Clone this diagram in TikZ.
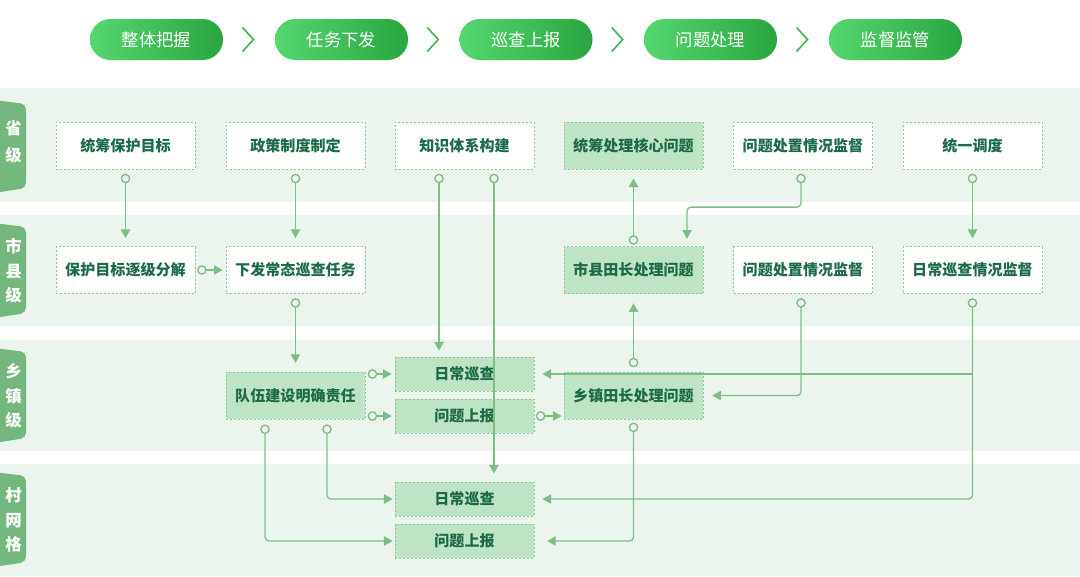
\documentclass[tikz,border=0pt]{standalone}
\usepackage{fontspec}
\newfontfamily\cjk{Noto Sans CJK SC}
\usetikzlibrary{arrows.meta,calc}
\definecolor{band}{HTML}{EBF5EE}
\definecolor{tabc}{HTML}{74B77F}
\definecolor{ln}{HTML}{7DBE88}
\definecolor{gfill}{HTML}{BFE4C5}
\definecolor{bord}{HTML}{8DC79A}
\definecolor{txt}{HTML}{1C6B48}
\definecolor{pillL}{HTML}{55D76F}
\definecolor{pillR}{HTML}{2AA53F}
\definecolor{chev}{HTML}{3DB654}
\tikzset{
  box/.style={draw=bord, dash pattern=on 1.5pt off 1.5pt, line width=0.6pt, fill=white,
    minimum width=104.25pt, minimum height=35.25pt, inner sep=0pt,
    font=\cjk\bfseries\fontsize{11.3}{13}\selectfont, text=txt},
  gbox/.style={box, fill=gfill},
  sbox/.style={gbox, minimum height=25.5pt},
  pill/.style={rounded corners=15.3pt, left color=pillL, right color=pillR,
    minimum width=99.75pt, minimum height=30.75pt, inner sep=0pt,
    font=\cjk\fontsize{13}{15}\selectfont, text=white},
  chevron/.style={draw=chev, line width=1.2pt},
  tabshape/.style={fill=tabc, rounded corners=4pt},
  tabtxt/.style={font=\cjk\bfseries\fontsize{12.3}{18.5}\selectfont, text=white, align=center, inner sep=0pt},
  conn/.style={draw=ln, line width=1pt, rounded corners=3pt,
    arrows={Circle[open,length=7.2pt]-Triangle[length=6.5pt,width=7pt]}},
  connp/.style={draw=ln, line width=1pt, arrows={-Triangle[length=6.5pt,width=7pt]}}
}
\begin{document}
\begin{tikzpicture}[x=0.75pt,y=-0.75pt]
\useasboundingbox (0,0) rectangle (1080,576);
\fill[white] (0,0) rectangle (1080,576);
% bands
\fill[band] (0,88) rectangle (1080,202);
\fill[band] (0,215) rectangle (1080,326);
\fill[band] (0,340) rectangle (1080,451);
\fill[band] (0,464) rectangle (1080,576);
% tabs
\fill[tabshape] (-6,100) -- (26,104) -- (26,188) -- (-6,193) -- cycle;
\fill[tabshape] (-6,223) -- (26,227) -- (26,313) -- (-6,318) -- cycle;
\fill[tabshape] (-6,348) -- (26,352) -- (26,438) -- (-6,443) -- cycle;
\fill[tabshape] (-6,472) -- (26,476) -- (26,562) -- (-6,567) -- cycle;
\node[tabtxt, font=\cjk\bfseries\fontsize{12.3}{20}\selectfont] (t1) at (13.5,142) {省\\级};
\node[tabtxt] (t2) at (13.5,271) {市\\县\\级};
\node[tabtxt] (t3) at (13.5,396) {乡\\镇\\级};
\node[tabtxt] (t4) at (13.5,520) {村\\网\\格};
% pills
\node[pill] (p1) at (156.5,39.5) {整体把握};
\node[pill] (p2) at (341.5,39.5) {任务下发};
\node[pill] (p3) at (526,39.5) {巡查上报};
\node[pill] (p4) at (710.5,39.5) {问题处理};
\node[pill] (p5) at (895.5,39.5) {监督监管};
\foreach \a/\b in {p1/p2,p2/p3,p3/p4,p4/p5}{
  \draw[chevron] ($(\a.east)!0.5!(\b.west)+(-6.5,-12)$) -- ++(11,12) -- ++(-11,12);
}
% row 1
\node[box] (n11) at (125.5,145.5) {统筹保护目标};
\node[box] (n12) at (295.5,145.5) {政策制度制定};
\node[box] (n13) at (464.5,145.5) {知识体系构建};
\node[gbox] (n14) at (633.5,145.5) {统筹处理核心问题};
\node[box] (n15) at (803,145.5) {问题处置情况监督};
\node[box] (n16) at (972.5,145.5) {统一调度};
% row 2
\node[box] (n21) at (125.5,270) {保护目标逐级分解};
\node[box] (n22) at (295.5,270) {下发常态巡查任务};
\node[gbox] (n24) at (633.5,270) {市县田长处理问题};
\node[box] (n25) at (803,270) {问题处置情况监督};
\node[box] (n26) at (972.5,270) {日常巡查情况监督};
% row 3
\node[gbox] (n32) at (295.5,395.5) {队伍建设明确责任};
\node[gbox] (n34) at (633.5,395.5) {乡镇田长处理问题};
\node[sbox] (r3a) at (464.5,374) {日常巡查};
\node[sbox] (r3b) at (464.5,416) {问题上报};
% row 4
\node[sbox] (r4a) at (464.5,499) {日常巡查};
\node[sbox] (r4b) at (464.5,541) {问题上报};
% connectors
\draw[conn, shorten <=3.2pt, shorten >=6pt] (n11.south) -- (n21.north);
\draw[conn, shorten <=3.2pt, shorten >=6pt] (n12.south) -- (n22.north);
\draw[conn, shorten <=3.2pt, shorten >=6pt] (n16.south) -- (n26.north);
\draw[conn, shorten <=1.2pt, shorten >=2.2pt] (n21.east) -- (n22.west);
\draw[conn, shorten <=3.2pt, shorten >=6.5pt] (n22.south) -- (n32.north);
\draw[conn, shorten <=3.2pt, shorten >=4.5pt] ($(n13.south)+(-25.5,0)$) -- ($(r3a.north)+(-25.5,0)$);
\draw[conn, shorten <=3.2pt, shorten >=6pt] ($(n13.south)+(29.5,0)$) -- ($(r4a.north)+(29.5,0)$);
\draw[conn, shorten <=1pt, shorten >=6.7pt] (n24.north) -- (n14.south);
\draw[conn, shorten <=3.2pt, shorten >=5.5pt] ($(n15.south)+(-2,0)$) |- ($(n24.north)+(53.5,-39)$) -- ($(n24.north)+(53.5,0)$);
\draw[conn, shorten <=3.2pt, shorten >=7pt] (n34.north) -- (n24.south);
\draw[conn, shorten <=3.2pt, shorten >=6.7pt] ($(n25.south)+(-2,0)$) |- (n34.east);
\draw[conn, shorten <=3.2pt, shorten >=6pt] (n26.south) |- (r4a.east);
\draw[connp, shorten >=6pt] (n26.south |- r3a.east) -- (r3a.east);
\draw[conn, shorten <=2.4pt, shorten >=9.5pt] (n34.south) |- (r4b.east);
\draw[conn, shorten <=1.7pt, shorten >=2.2pt] (n32.east |- r3a.west) -- (r3a.west);
\draw[conn, shorten <=1.7pt, shorten >=2.2pt] (n32.east |- r3b.west) -- (r3b.west);
\draw[conn, shorten <=1pt, shorten >=1.5pt] (r3b.east) -- (r3b.east -| n34.west);
\draw[conn, shorten <=3.8pt, shorten >=1.5pt] ($(n32.south)+(31.5,0)$) |- (r4a.west);
\draw[conn, shorten <=3.8pt, shorten >=1.5pt] ($(n32.south)+(-30.5,0)$) |- (r4b.west);
\end{tikzpicture}
\end{document}
